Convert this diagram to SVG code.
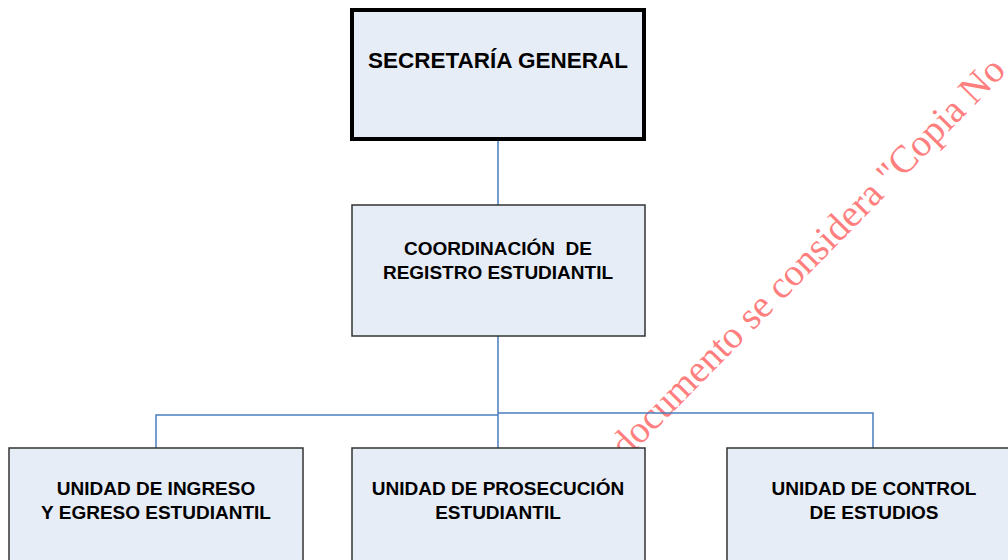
<svg xmlns="http://www.w3.org/2000/svg" width="1008" height="560" viewBox="0 0 1008 560">
<style>
.box{fill:#e7edf7;stroke:#333;stroke-width:1.5}
.top{fill:#e7edf7;stroke:#000;stroke-width:4}
.t{font-family:"Liberation Sans",Arial,sans-serif;font-weight:bold;fill:#000;text-anchor:middle}
.c{fill:none;stroke:#4a7ebb;stroke-width:1.5}
.wm{font-family:"Liberation Serif","Times New Roman",serif;fill:#ff7f7f;font-size:38.5px}
</style>
<rect width="1008" height="560" fill="#fff"/>
<text class="wm" transform="translate(626,460) rotate(-45.5)">documento se considera "Copia No</text>
<g id="connectors">
<path class="c" d="M498,139V205M498,336V448M498,415H156V448M498,413H873V448"/>
</g>
<g id="secretaria">
<rect class="top" x="352" y="10" width="292" height="129"/>
<text class="t" x="498" y="68" font-size="22.5">SECRETARÍA GENERAL</text>
</g>
<g id="coordinacion">
<rect class="box" x="352" y="205" width="293" height="131"/>
<text class="t" x="498" y="255" font-size="19" xml:space="preserve">COORDINACIÓN  DE</text>
<text class="t" x="498" y="279" font-size="19">REGISTRO ESTUDIANTIL</text>
</g>
<g id="ingreso">
<rect class="box" x="9" y="448" width="294" height="130"/>
<text class="t" x="156" y="495" font-size="19">UNIDAD DE INGRESO</text>
<text class="t" x="156" y="519" font-size="19">Y EGRESO ESTUDIANTIL</text>
</g>
<g id="prosecucion">
<rect class="box" x="352" y="448" width="293" height="130"/>
<text class="t" x="498" y="495" font-size="19">UNIDAD DE PROSECUCIÓN</text>
<text class="t" x="498" y="519" font-size="19">ESTUDIANTIL</text>
</g>
<g id="control">
<rect class="box" x="727" y="448" width="300" height="130"/>
<text class="t" x="874" y="495" font-size="19">UNIDAD DE CONTROL</text>
<text class="t" x="874" y="519" font-size="19">DE ESTUDIOS</text>
</g>
</svg>
